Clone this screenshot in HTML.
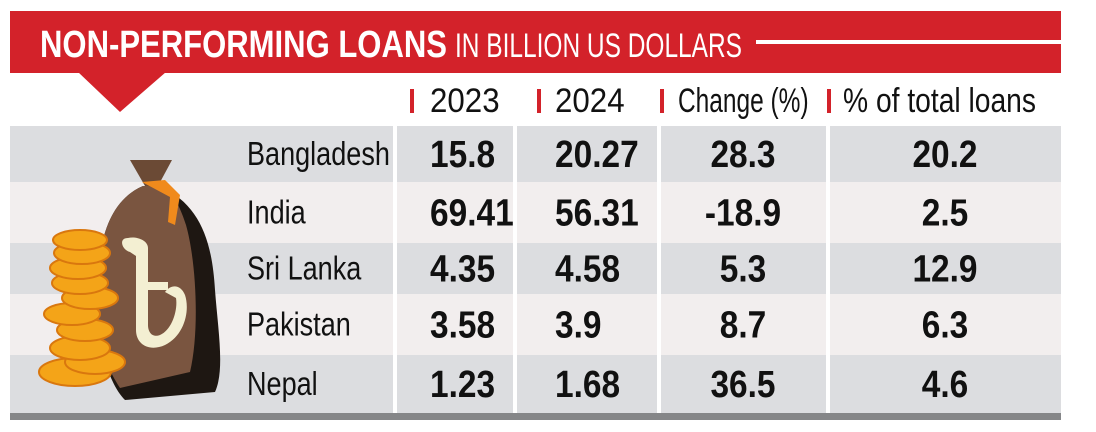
<!DOCTYPE html>
<html><head><meta charset="utf-8"><style>
html,body{margin:0;padding:0;background:#fff;width:1096px;height:432px;overflow:hidden}
svg text{font-family:"Liberation Sans",sans-serif}
</style></head><body>
<svg id="chart" width="1096" height="432" viewBox="0 0 1096 432" xmlns="http://www.w3.org/2000/svg">
<g>
<rect x="10" y="11" width="1051" height="62" fill="#d3222a"/>
<polygon points="78,72 166,72 120,112" fill="#d3222a"/>
<text x="40" y="57" font-size="38" font-weight="bold" fill="#fff" textLength="407" lengthAdjust="spacingAndGlyphs">NON-PERFORMING LOANS</text>
<text x="455" y="57" font-size="34" fill="#fff" textLength="287" lengthAdjust="spacingAndGlyphs">IN BILLION US DOLLARS</text>
<rect x="756" y="40" width="305" height="4" fill="#fff"/>
</g>
<g id="rows"></g>
<g id="heads"></g>
<g>
<path d="M130,160 L172,160 L158,186 L145,186 Z" fill="#6b4a35"/>
<path d="M143,186 C110,200 96,240 98,300 C98,350 110,385 125,400 L215,392 C225,370 218,330 215,290 C212,240 200,205 160,186 Z" fill="#1e1712"/>
<path d="M143,186 C110,200 96,240 98,300 C98,345 108,370 120,388 L190,372 C200,330 196,260 186,225 C178,200 170,190 160,186 Z" fill="#7a5540"/>
<path d="M142,182 L165,180 L180,195 L175,225 L168,222 L170,197 Z" fill="#f08a1c"/>
<path d="M128,238 C118,238 122,250 130,252 L136,256 L136,330 C136,345 150,352 165,345 C185,335 190,310 185,295 C180,283 170,285 165,292 L176,298 C178,310 172,330 160,335 C152,338 148,332 148,325 L148,290 L168,290 L168,282 L148,282 L148,248 C148,240 136,236 128,238 Z" fill="#f3efd2"/>
<g fill="#f4a418" stroke="#d9770e" stroke-width="2">
<ellipse cx="75" cy="372" rx="36" ry="14"/>
<ellipse cx="95" cy="362" rx="30" ry="12"/>
<ellipse cx="80" cy="348" rx="30" ry="12"/>
<ellipse cx="85" cy="330" rx="28" ry="11"/>
<ellipse cx="72" cy="314" rx="28" ry="11"/>
<ellipse cx="90" cy="298" rx="28" ry="11"/>
<ellipse cx="80" cy="283" rx="28" ry="11"/>
<ellipse cx="78" cy="268" rx="28" ry="11"/>
<ellipse cx="82" cy="253" rx="28" ry="11"/>
<ellipse cx="80" cy="240" rx="27" ry="10"/>
</g>
</g>
<rect x="10" y="413" width="1051" height="7" fill="#858688"/>
</svg>
<script>
const countries = ["Bangladesh","India","Sri Lanka","Pakistan","Nepal"];
const v2023 = ["15.8","69.41","4.35","3.58","1.23"];
const v2024 = ["20.27","56.31","4.58","3.9","1.68"];
const changePct = ["28.3","-18.9","5.3","8.7","36.5"];
const pctTotal = ["20.2","2.5","12.9","6.3","4.6"];
const headers = ["2023","2024","Change (%)","% of total loans"];
const NS="http://www.w3.org/2000/svg";
const rows=document.getElementById('rows'), heads=document.getElementById('heads');
const rowTops=[126,182,243,294,355,413];
const seps=[395,515,659,828];
function mk(tag,attrs,parent){const e=document.createElementNS(NS,tag);for(const k in attrs)e.setAttribute(k,attrs[k]);parent.appendChild(e);return e;}
function condense(e,f){const w=e.getComputedTextLength();e.setAttribute('textLength',(w*f).toFixed(1));e.setAttribute('lengthAdjust','spacingAndGlyphs');}
countries.forEach((c,i)=>{
  const y0=rowTops[i], y1=rowTops[i+1];
  const r=mk('rect',{x:10,y:y0,width:1051,height:y1-y0,fill:i%2?'#f2eeee':'#dcdde0'},rows);
  
  
  const base=(y0+y1)/2+11;
  const t=mk('text',{x:247,y:base,'font-size':33,fill:'#111'},rows);t.textContent=c;
  
  
  condense(t,0.82);
  const cols=[[v2023[i],430,'start'],[v2024[i],555,'start'],[changePct[i],743,'middle'],[pctTotal[i],945,'middle']];
  cols.forEach(([v,x,a])=>{const e=mk('text',{x:x,y:base+2,'font-size':38,'font-weight':'bold','text-anchor':a,fill:'#111'},rows);e.textContent=v;
    
    
    condense(e,0.88);});
});
seps.forEach(x=>{mk('rect',{x:x-2,y:126,width:4,height:287,fill:'#fff'},rows);});
const hx=[[410,430],[537,555],[660,678],[827,843]];
const hf=[0.92,0.92,0.72,0.83];
headers.forEach((h,i)=>{
  mk('rect',{x:hx[i][0],y:89,width:4,height:24,fill:'#d3222a'},heads);
  const t=mk('text',{x:hx[i][1],y:112,'font-size':34,fill:'#111'},heads);t.textContent=h;
  
  
  condense(t,hf[i]);
});
</script>
</body></html>
